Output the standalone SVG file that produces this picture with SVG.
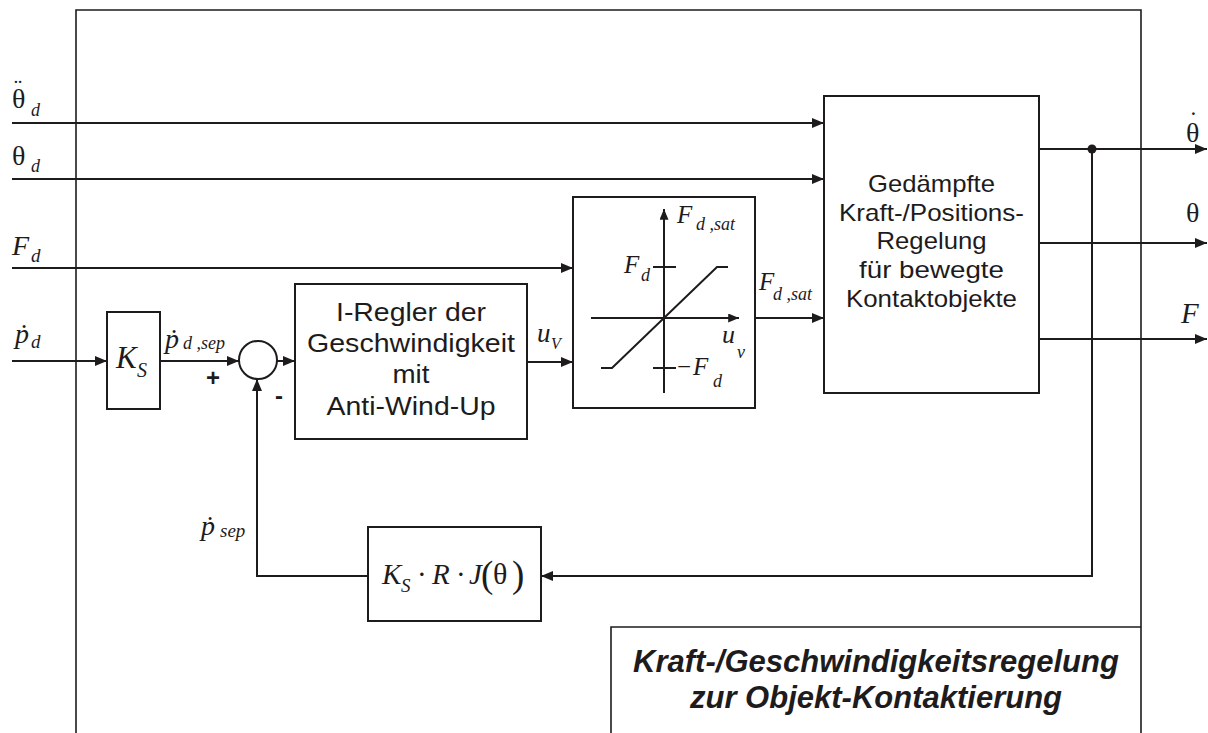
<svg xmlns="http://www.w3.org/2000/svg" width="1208" height="733" viewBox="0 0 1208 733">
<defs>
<style>
.ln{fill:none;stroke:#1e1b1c;stroke-width:2}
.bx{fill:#fff;stroke:#1e1b1c;stroke-width:2}
.fr{fill:none;stroke:#1e1b1c;stroke-width:1.6}
.sans{font-family:"Liberation Sans",Arial,sans-serif;fill:#1e1b1c}
.m{font-family:"Liberation Serif","Times New Roman",serif;font-style:italic;fill:#1e1b1c}
.g{font-family:"Liberation Serif","Times New Roman",serif;fill:#1e1b1c}
.title{font-family:"Liberation Sans",Arial,sans-serif;font-weight:bold;font-style:italic;font-size:31px;fill:#1e1b1c}
</style>
<marker id="ar" viewBox="0 0 12 10" refX="12" refY="5" markerWidth="12" markerHeight="10" markerUnits="userSpaceOnUse" orient="auto">
<path d="M0,0 L12,5 L0,10 z" fill="#1e1b1c"/>
</marker>
<marker id="ars" viewBox="0 0 12 10" refX="12" refY="5" markerWidth="11" markerHeight="9" markerUnits="userSpaceOnUse" orient="auto">
<path d="M0,0 L12,5 L0,10 z" fill="#1e1b1c"/>
</marker>
</defs>
<rect width="1208" height="733" fill="#fff"/>

<g id="frame">
<path class="fr" d="M76,733 V10 H1141 V733"/>
</g>

<g id="title">
<path class="fr" d="M611,733 V627 H1141"/>
<text class="title" x="876" y="672" text-anchor="middle">Kraft-/Geschwindigkeitsregelung</text>
<text class="title" x="876" y="708" text-anchor="middle">zur Objekt-Kontaktierung</text>
</g>

<g id="connectors">
<path class="ln" d="M12,123 H824" marker-end="url(#ar)"/>
<path class="ln" d="M12,179 H824" marker-end="url(#ar)"/>
<path class="ln" d="M12,268 H573" marker-end="url(#ar)"/>
<path class="ln" d="M12,361 H107" marker-end="url(#ar)"/>
<path class="ln" d="M160,361 H239" marker-end="url(#ar)"/>
<path class="ln" d="M277,361 H295" marker-end="url(#ar)"/>
<path class="ln" d="M527,362 H573" marker-end="url(#ar)"/>
<path class="ln" d="M755,318 H824" marker-end="url(#ar)"/>
<path class="ln" d="M1039,149 H1207" marker-end="url(#ar)"/>
<path class="ln" d="M1039,243 H1207" marker-end="url(#ar)"/>
<path class="ln" d="M1039,339 H1207" marker-end="url(#ar)"/>
<path class="ln" d="M1092,149 V576 H541" marker-end="url(#ar)"/>
<path class="ln" d="M368,576 H257 V379" marker-end="url(#ar)"/>
<circle cx="1092" cy="149" r="4.5" fill="#1e1b1c"/>
</g>

<g id="input-labels">
<text class="g" x="12" y="108" font-size="28">θ</text>
<text class="g" x="14" y="95" font-size="24">¨</text>
<text class="m" x="31" y="116" font-size="18">d</text>
<text class="g" x="12" y="165" font-size="28">θ</text>
<text class="m" x="31" y="172" font-size="18">d</text>
<text class="m" x="12" y="255" font-size="28">F</text>
<text class="m" x="31" y="262" font-size="19">d</text>
<text class="m" x="15" y="343" font-size="28">ṗ</text>
<text class="m" x="31" y="348" font-size="19">d</text>
</g>

<g id="output-labels">
<text class="g" x="1186" y="142" font-size="28">θ</text>
<text class="g" x="1189" y="129" font-size="26">˙</text>
<text class="g" x="1186" y="222" font-size="28">θ</text>
<text class="m" x="1181" y="323" font-size="29">F</text>
</g>

<g id="ks">
<rect class="bx" x="107" y="312" width="53" height="97"/>
<text class="m" x="116" y="368" font-size="31">K</text>
<text class="m" x="137" y="377" font-size="20">S</text>
</g>

<g id="pdsep-label">
<text class="m" x="165" y="348" font-size="28">ṗ</text>
<text class="m" x="183" y="349" font-size="18">d ,sep</text>
<text class="sans" x="206" y="386" font-size="24" font-weight="bold">+</text>
<text class="sans" x="275" y="404" font-size="24" font-weight="bold">-</text>
</g>

<g id="sum">
<circle class="bx" cx="258" cy="360" r="19"/>
</g>

<g id="i-regler">
<rect class="bx" x="295" y="284" width="232" height="155"/>
<text class="sans" x="411" y="321" font-size="26" text-anchor="middle" textLength="150" lengthAdjust="spacingAndGlyphs">I-Regler der</text>
<text class="sans" x="411" y="352" font-size="26" text-anchor="middle" textLength="208" lengthAdjust="spacingAndGlyphs">Geschwindigkeit</text>
<text class="sans" x="411" y="383" font-size="26" text-anchor="middle" textLength="37" lengthAdjust="spacingAndGlyphs">mit</text>
<text class="sans" x="411" y="415" font-size="26" text-anchor="middle" textLength="169" lengthAdjust="spacingAndGlyphs">Anti-Wind-Up</text>
</g>

<g id="uv-label">
<text class="m" x="537" y="342" font-size="27">u</text>
<text class="m" x="551" y="349" font-size="16">V</text>
</g>

<g id="saturation">
<rect class="bx" x="573" y="197" width="182" height="211"/>
<path class="ln" d="M664,393 V209" marker-end="url(#ars)"/>
<path class="ln" d="M591,318 H739" marker-end="url(#ars)"/>
<path class="ln" d="M601,368 H612 L717,267 H728"/>
<path class="ln" d="M653,267 H676 M653,368 H676"/>
<text class="m" x="677" y="223" font-size="25">F</text>
<text class="m" x="696" y="230" font-size="18">d ,sat</text>
<text class="m" x="624" y="273" font-size="25">F</text>
<text class="m" x="641" y="281" font-size="18">d</text>
<text class="m" x="722" y="343" font-size="26">u</text>
<text class="m" x="737" y="358" font-size="18">v</text>
<text class="g" x="677" y="375" font-size="25">−</text>
<text class="m" x="693" y="375" font-size="25">F</text>
<text class="m" x="713" y="387" font-size="18">d</text>
</g>

<g id="fdsat-label">
<text class="m" x="759" y="290" font-size="25">F</text>
<text class="m" x="773" y="300" font-size="18">d ,sat</text>
</g>

<g id="main-controller">
<rect class="bx" x="824" y="96" width="215" height="297"/>
<text class="sans" x="931.5" y="192" font-size="24" text-anchor="middle" textLength="127" lengthAdjust="spacingAndGlyphs">Gedämpfte</text>
<text class="sans" x="931.5" y="221" font-size="24" text-anchor="middle" textLength="185" lengthAdjust="spacingAndGlyphs">Kraft-/Positions-</text>
<text class="sans" x="931.5" y="249" font-size="24" text-anchor="middle" textLength="110" lengthAdjust="spacingAndGlyphs">Regelung</text>
<text class="sans" x="931.5" y="278" font-size="24" text-anchor="middle" textLength="145" lengthAdjust="spacingAndGlyphs">für bewegte</text>
<text class="sans" x="931.5" y="307" font-size="24" text-anchor="middle" textLength="171" lengthAdjust="spacingAndGlyphs">Kontaktobjekte</text>
</g>

<g id="feedback">
<rect class="bx" x="368" y="527" width="173" height="94"/>
<text class="m" x="382" y="584" font-size="29">K</text>
<text class="m" x="401" y="592" font-size="19">S</text>
<text class="g" x="417" y="584" font-size="29">·</text>
<text class="m" x="432" y="584" font-size="29">R</text>
<text class="g" x="456" y="584" font-size="29">·</text>
<text class="m" x="469" y="584" font-size="29">J</text>
<text class="g" x="481" y="587" font-size="37">(</text>
<text class="g" x="493" y="584" font-size="30">θ</text>
<text class="g" x="512" y="587" font-size="37">)</text>
</g>

<g id="psep-label">
<text class="m" x="201" y="535" font-size="28">ṗ</text>
<text class="m" x="220" y="537" font-size="19">sep</text>
</g>
</svg>
